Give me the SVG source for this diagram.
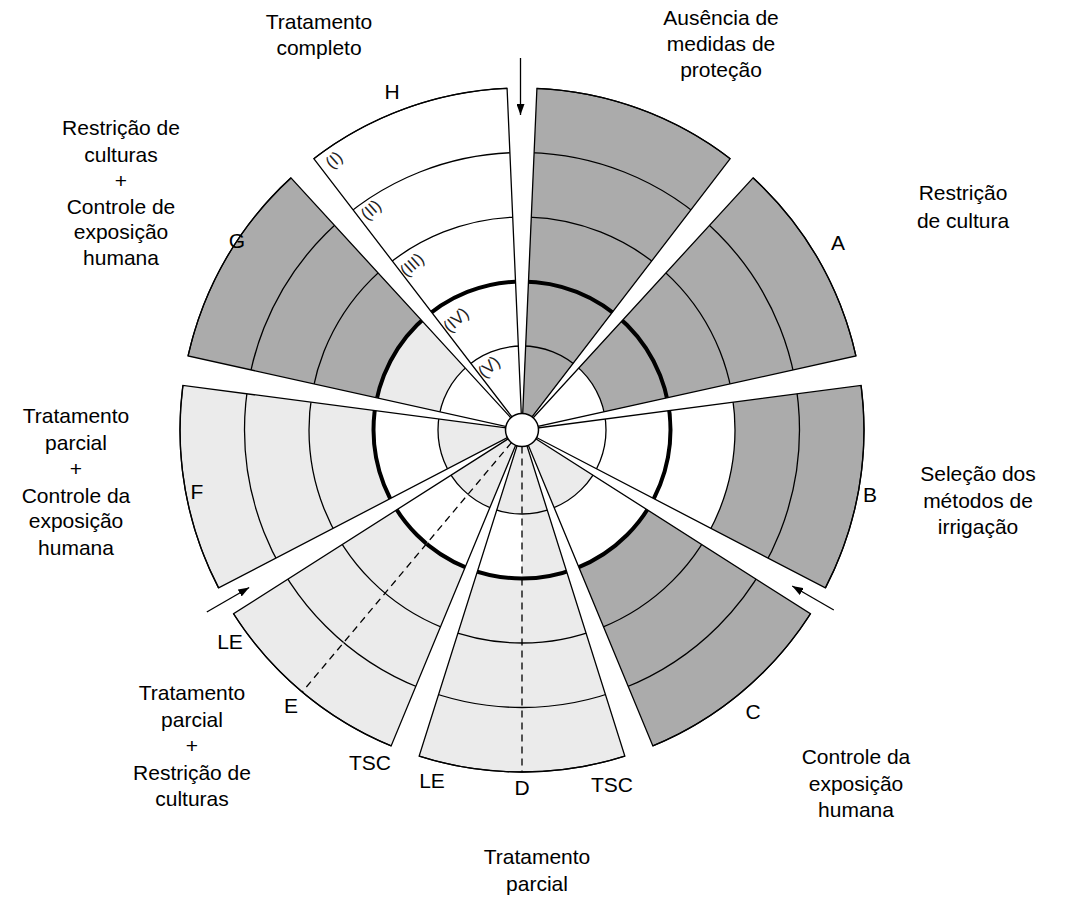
<svg xmlns="http://www.w3.org/2000/svg" width="1067" height="899" viewBox="0 0 1067 899">
<style>
.sec circle{stroke:#000;stroke-width:1.3}
.dk{fill:#ababab}.lt{fill:#ebebeb}.wh{fill:#fff}
.sec circle.thick{stroke-width:4}
.edge{fill:none;stroke:#000;stroke-width:1.3}
.dash{fill:none;stroke:#000;stroke-width:1.3;stroke-dasharray:7 5}
.arr{fill:none;stroke:#000;stroke-width:1.3;marker-end:url(#ah)}
text{font-family:"Liberation Sans",Arial,sans-serif;font-size:21px;fill:#000;text-anchor:middle}
.rl{font-size:17px;fill:#222;dominant-baseline:central}
</style>
<defs>
<marker id="ah" markerUnits="userSpaceOnUse" markerWidth="11" markerHeight="8" refX="11" refY="4" orient="auto"><path d="M0,0 L11,4 L0,8 Z" fill="#000"/></marker>
<clipPath id="c0"><path d="M522,430 L539.45,30.38 A400,400 0 0 1 765.50,112.66 Z"/></clipPath>
<clipPath id="cA"><path d="M522,430 L792.24,135.09 A400,400 0 0 1 912.52,343.42 Z"/></clipPath>
<clipPath id="cB"><path d="M522,430 L918.58,377.79 A400,400 0 0 1 876.80,614.70 Z"/></clipPath>
<clipPath id="cC"><path d="M522,430 L859.36,644.92 A400,400 0 0 1 675.07,799.55 Z"/></clipPath>
<clipPath id="cD1"><path d="M522,430 L642.28,811.49 A400,400 0 0 1 522,830 Z"/></clipPath>
<clipPath id="cD2"><path d="M522,430 L522,830 A400,400 0 0 1 401.72,811.49 Z"/></clipPath>
<clipPath id="cE1"><path d="M522,430 L368.93,799.55 A400,400 0 0 1 264.88,736.42 Z"/></clipPath>
<clipPath id="cE2"><path d="M522,430 L264.88,736.42 A400,400 0 0 1 184.64,644.92 Z"/></clipPath>
<clipPath id="cF"><path d="M522,430 L167.20,614.70 A400,400 0 0 1 125.42,377.79 Z"/></clipPath>
<clipPath id="cG"><path d="M522,430 L131.48,343.42 A400,400 0 0 1 251.76,135.09 Z"/></clipPath>
<clipPath id="cH"><path d="M522,430 L278.50,112.66 A400,400 0 0 1 504.55,30.38 Z"/></clipPath>
</defs>
<rect width="1067" height="899" fill="#fff"/>

<g id="sector-ausencia" class="sec">
<g clip-path="url(#c0)">
<circle cx="522" cy="430" r="342" class="dk"/><circle cx="522" cy="430" r="277.5" class="dk"/><circle cx="522" cy="430" r="213" class="dk"/><circle cx="522" cy="430" r="148.5" class="dk thick"/><circle cx="522" cy="430" r="84" class="dk"/>
</g>
<path class="edge" d="M522,430 L536.92,88.33 A342,342 0 0 1 730.20,158.67 Z"/>
</g>

<g id="sector-A" class="sec">
<g clip-path="url(#cA)">
<circle cx="522" cy="430" r="342" class="dk"/><circle cx="522" cy="430" r="277.5" class="dk"/><circle cx="522" cy="430" r="213" class="dk"/><circle cx="522" cy="430" r="148.5" class="dk thick"/><circle cx="522" cy="430" r="84" class="wh"/>
</g>
<path class="edge" d="M522,430 L753.05,177.85 A342,342 0 0 1 855.89,355.98 Z"/>
</g>

<g id="sector-B" class="sec">
<g clip-path="url(#cB)">
<circle cx="522" cy="430" r="342" class="dk"/><circle cx="522" cy="430" r="277.5" class="dk"/><circle cx="522" cy="430" r="213" class="wh"/><circle cx="522" cy="430" r="148.5" class="wh thick"/><circle cx="522" cy="430" r="84" class="wh"/>
</g>
<path class="edge" d="M522,430 L861.07,385.36 A342,342 0 0 1 825.36,587.92 Z"/>
</g>

<g id="sector-C" class="sec">
<g clip-path="url(#cC)">
<circle cx="522" cy="430" r="342" class="dk"/><circle cx="522" cy="430" r="277.5" class="dk"/><circle cx="522" cy="430" r="213" class="dk"/><circle cx="522" cy="430" r="148.5" class="wh thick"/><circle cx="522" cy="430" r="84" class="lt"/>
</g>
<path class="edge" d="M522,430 L810.44,613.76 A342,342 0 0 1 652.88,745.97 Z"/>
</g>

<g id="sector-D" class="sec">
<g clip-path="url(#cD1)">
<circle cx="522" cy="430" r="342" class="lt"/><circle cx="522" cy="430" r="277.5" class="lt"/><circle cx="522" cy="430" r="213" class="lt"/><circle cx="522" cy="430" r="148.5" class="lt thick"/><circle cx="522" cy="430" r="84" class="lt"/>
</g>
<g clip-path="url(#cD2)">
<circle cx="522" cy="430" r="342" class="lt"/><circle cx="522" cy="430" r="277.5" class="lt"/><circle cx="522" cy="430" r="213" class="lt"/><circle cx="522" cy="430" r="148.5" class="wh thick"/><circle cx="522" cy="430" r="84" class="lt"/>
</g>
<path class="edge" d="M522,430 L624.84,756.17 A342,342 0 0 1 419.16,756.17 Z"/>
<path class="dash" d="M522,446.5 L522,772"/>
</g>

<g id="sector-E" class="sec">
<g clip-path="url(#cE1)">
<circle cx="522" cy="430" r="342" class="lt"/><circle cx="522" cy="430" r="277.5" class="lt"/><circle cx="522" cy="430" r="213" class="lt"/><circle cx="522" cy="430" r="148.5" class="wh thick"/><circle cx="522" cy="430" r="84" class="lt"/>
</g>
<g clip-path="url(#cE2)">
<circle cx="522" cy="430" r="342" class="lt"/><circle cx="522" cy="430" r="277.5" class="lt"/><circle cx="522" cy="430" r="213" class="lt"/><circle cx="522" cy="430" r="148.5" class="wh thick"/><circle cx="522" cy="430" r="84" class="lt"/>
</g>
<path class="edge" d="M522,430 L391.12,745.97 A342,342 0 0 1 233.56,613.76 Z"/>
<path class="dash" d="M511.4,442.6 L302.17,691.99"/>
</g>

<g id="sector-F" class="sec">
<g clip-path="url(#cF)">
<circle cx="522" cy="430" r="342" class="lt"/><circle cx="522" cy="430" r="277.5" class="lt"/><circle cx="522" cy="430" r="213" class="lt"/><circle cx="522" cy="430" r="148.5" class="wh thick"/><circle cx="522" cy="430" r="84" class="lt"/>
</g>
<path class="edge" d="M522,430 L218.64,587.92 A342,342 0 0 1 182.93,385.36 Z"/>
</g>

<g id="sector-G" class="sec">
<g clip-path="url(#cG)">
<circle cx="522" cy="430" r="342" class="dk"/><circle cx="522" cy="430" r="277.5" class="dk"/><circle cx="522" cy="430" r="213" class="dk"/><circle cx="522" cy="430" r="148.5" class="lt thick"/><circle cx="522" cy="430" r="84" class="wh"/>
</g>
<path class="edge" d="M522,430 L188.11,355.98 A342,342 0 0 1 290.95,177.85 Z"/>
</g>

<g id="sector-H" class="sec">
<g clip-path="url(#cH)">
<circle cx="522" cy="430" r="342" class="wh"/><circle cx="522" cy="430" r="277.5" class="wh"/><circle cx="522" cy="430" r="213" class="wh"/><circle cx="522" cy="430" r="148.5" class="wh thick"/><circle cx="522" cy="430" r="84" class="wh"/>
</g>
<path class="edge" d="M522,430 L313.80,158.67 A342,342 0 0 1 507.08,88.33 Z"/>
<text class="rl" transform="translate(334,160) rotate(-42)">(I)</text>
<text class="rl" transform="translate(371,210) rotate(-42)">(II)</text>
<text class="rl" transform="translate(412,265) rotate(-42)">(III)</text>
<text class="rl" transform="translate(456,320) rotate(-42)">(IV)</text>
<text class="rl" transform="translate(489,367) rotate(-42)">(V)</text>
</g>

<g id="hub"><circle cx="522" cy="430" r="16.5" fill="#fff" stroke="#000" stroke-width="1.5"/></g>

<g id="connectors">
<path class="arr" d="M520.5,58 L520.5,115"/>
<path class="arr" d="M833.8,610 L792.2,586"/>
<path class="arr" d="M206.8,612 L249.2,587.5"/>
</g>

<g id="labels">
<text x="319" y="29">Tratamento</text><text x="319" y="55">completo</text>
<text x="721" y="25">Ausência de</text><text x="721" y="51">medidas de</text><text x="721" y="77">proteção</text>
<text x="963" y="200">Restrição</text><text x="963" y="228">de cultura</text>
<text x="978" y="481">Seleção dos</text><text x="978" y="508">métodos de</text><text x="978" y="534">irrigação</text>
<text x="856" y="764">Controle da</text><text x="856" y="791">exposição</text><text x="856" y="817">humana</text>
<text x="537" y="864">Tratamento</text><text x="537" y="891">parcial</text>
<text x="192" y="700">Tratamento</text><text x="192" y="727">parcial</text><text x="192" y="753">+</text><text x="192" y="780">Restrição de</text><text x="192" y="806">culturas</text>
<text x="76" y="423">Tratamento</text><text x="76" y="450">parcial</text><text x="76" y="476">+</text><text x="76" y="503">Controle da</text><text x="76" y="528">exposição</text><text x="76" y="555">humana</text>
<text x="121" y="135">Restrição de</text><text x="121" y="162">culturas</text><text x="121" y="188">+</text><text x="121" y="214">Controle de</text><text x="121" y="239">exposição</text><text x="121" y="265">humana</text>
<text x="392" y="99">H</text>
<text x="838" y="250">A</text>
<text x="870" y="502">B</text>
<text x="753" y="719">C</text>
<text x="522" y="795">D</text>
<text x="291" y="713">E</text>
<text x="197" y="499">F</text>
<text x="237" y="248">G</text>
<text x="230" y="649">LE</text>
<text x="370" y="770">TSC</text>
<text x="432" y="788">LE</text>
<text x="612" y="792">TSC</text>
</g>
</svg>
